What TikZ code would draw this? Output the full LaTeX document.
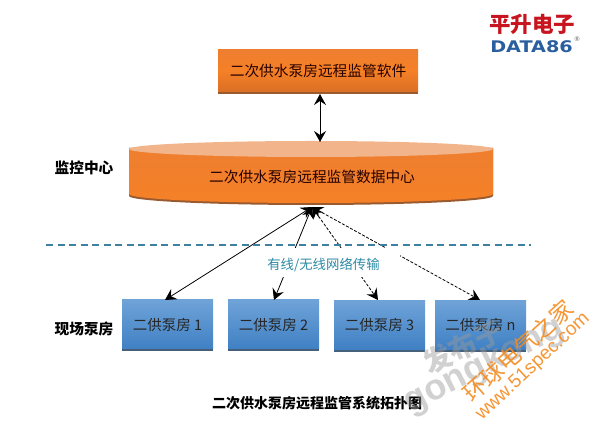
\documentclass[tikz,border=0pt]{standalone}
\usepackage{fontspec}
\setmainfont{Noto Sans CJK SC}
\newfontfamily\latinsans{Liberation Sans}
\newfontfamily\logosans{DejaVu Sans}
\usetikzlibrary{arrows.meta,calc}
\definecolor{orgtop}{HTML}{EE7F30}
\definecolor{orgmid}{HTML}{F58026}
\definecolor{orgbot}{HTML}{D96F25}
\definecolor{orgedge}{HTML}{9A5A30}
\definecolor{orglid}{HTML}{F2B48A}
\definecolor{bluetop}{HTML}{6FA3D8}
\definecolor{bluebot}{HTML}{3F80C4}
\definecolor{blueedge}{HTML}{46607C}
\definecolor{sep}{HTML}{3F7FA0}
\definecolor{teal}{HTML}{2E8AA5}
\definecolor{wmgrey}{HTML}{9A9A9A}
\definecolor{wmorange}{HTML}{F58B1F}
\definecolor{logored}{HTML}{C8141E}
\definecolor{logoblue}{HTML}{2A5E9E}
\tikzset{
  x=1pt,y=-1pt,
  orangebox/.style={rectangle,minimum width=200pt,minimum height=44pt,inner sep=0pt,
    top color=orgtop,bottom color=orgbot,middle color=orgmid,font=\fontsize{14.7}{16}\selectfont,text=black!85!red},
  pumpbox/.style={rectangle,minimum width=91pt,minimum height=51pt,inner sep=0pt,
    top color=bluetop,bottom color=bluebot,font=\fontsize{14.5}{16}\selectfont,text=black!85},
  sidelabel/.style={font=\bfseries\fontsize{14.7}{16}\selectfont,text=black},
  link/.style={black,line width=0.8pt,{Stealth[length=11pt,width=12pt,inset=4pt]}-{Stealth[length=11pt,width=12pt,inset=4pt]}},
  linkd/.style={link,dashed,dash pattern=on 3pt off 1.6pt},
}
\begin{document}
\begin{tikzpicture}
\useasboundingbox (0,0) rectangle (600,430);
\fill[white] (0,0) rectangle (600,430);
% logo
\node[font=\bfseries\fontsize{21.5}{23}\selectfont,text=logored,inner sep=0pt] (logocn) at (532,24.5) {平升电子};
\node[font=\logosans\bfseries\fontsize{16}{18}\selectfont,text=logoblue,inner sep=0pt,xscale=1.2] (logoen) at (531.5,47) {DATA86};
\node[font=\logosans\fontsize{6.5}{7}\selectfont,text=black!60,inner sep=0pt] (logor) at (577,39) {®};
% software
\fill[orgedge] (218,91) rectangle (418,94);
\node[orangebox,minimum height=42pt] (soft) at (318,71) {二次供水泵房远程监管软件};
% data centre cylinder
\fill[orgedge] (129,148) -- (129,196) arc[start angle=180,end angle=360,x radius=182pt,y radius=9pt] -- (493,148) -- cycle;
\shade[top color=orgtop,bottom color=orgmid] (129,148) -- (129,194) arc[start angle=180,end angle=360,x radius=182pt,y radius=9pt] -- (493,148) -- cycle;
\fill[orglid] (311,149) ellipse[x radius=182pt,y radius=8pt];
\node[font=\fontsize{14.7}{16}\selectfont,text=black!85!red,inner sep=0pt] (dc) at (312,177) {二次供水泵房远程监管数据中心};
\coordinate (dctop) at (320,142);
\coordinate (softbot) at (320,94);
\draw[link,line width=1pt] (softbot) -- (dctop);
% side labels
\node[sidelabel] (lab1) at (84,168) {监控中心};
\node[sidelabel] (lab2) at (84,329) {现场泵房};
% separator
\coordinate (sepl) at (46,245);
\coordinate (sepr) at (531,245);
% pumps
\fill[blueedge] (122,348) rectangle (213,351.5);
\fill[blueedge] (228,348) rectangle (319,351.5);
\fill[blueedge] (334,348.5) rectangle (425,352);
\fill[blueedge] (435,348.5) rectangle (526,352);
\node[pumpbox,minimum height=49pt] (p1) at (167.5,324.5) {\raisebox{-2pt}{二供泵房 1}};
\node[pumpbox,minimum height=49pt] (p2) at (273.5,324.5) {\raisebox{-.5pt}{二供泵房 2}};
\node[pumpbox,minimum height=49pt] (p3) at (379.5,325) {\raisebox{-2pt}{二供泵房 3}};
\node[pumpbox,minimum height=49pt] (pn) at (480.5,325) {\raisebox{-2pt}{二供泵房 n}};
% links
\coordinate (hub) at (312,207);
\coordinate (a1) at (165,300);
\coordinate (a2) at (274,300);
\coordinate (a3) at (378,300);
\coordinate (an) at (480,300);
\draw[link] (hub) -- (a1);
\draw[link] (hub) -- (a2);
\draw[linkd] (hub) -- (a3);
\draw[linkd] (hub) -- (an);
\fill[white] (262,248) rectangle (400,277);
\draw[sep,line width=1.6pt,dash pattern=on 7pt off 4.5pt] (sepl) -- (sepr);
\node[font=\fontsize{13.4}{15}\selectfont,text=teal,inner sep=0pt] (net) at (323.5,265) {有线/无线网络传输};
\node[font=\bfseries\fontsize{14}{16}\selectfont,text=black,inner sep=0pt] (cap) at (317,403) {二次供水泵房远程监管系统拓扑图};
% watermarks
\node[font=\bfseries\fontsize{28}{30}\selectfont,text=wmgrey,opacity=0.45,rotate=25,inner sep=0pt] (wm1) at (463,347) {发布于};
\node[font=\latinsans\bfseries\fontsize{36}{38}\selectfont,text=wmgrey,opacity=0.45,rotate=27,inner sep=0pt] (wm2) at (484,366) {gongkong};
\node[font=\fontsize{23}{25}\selectfont,text=wmorange,opacity=0.9,rotate=42,inner sep=0pt] (wm3) at (518,351) {环球电气之家};
\node[font=\latinsans\fontsize{19}{21}\selectfont,text=wmorange,opacity=0.9,rotate=43,inner sep=0pt] (wm4) at (533,367) {www.51spec.com};
\end{tikzpicture}
\end{document}
